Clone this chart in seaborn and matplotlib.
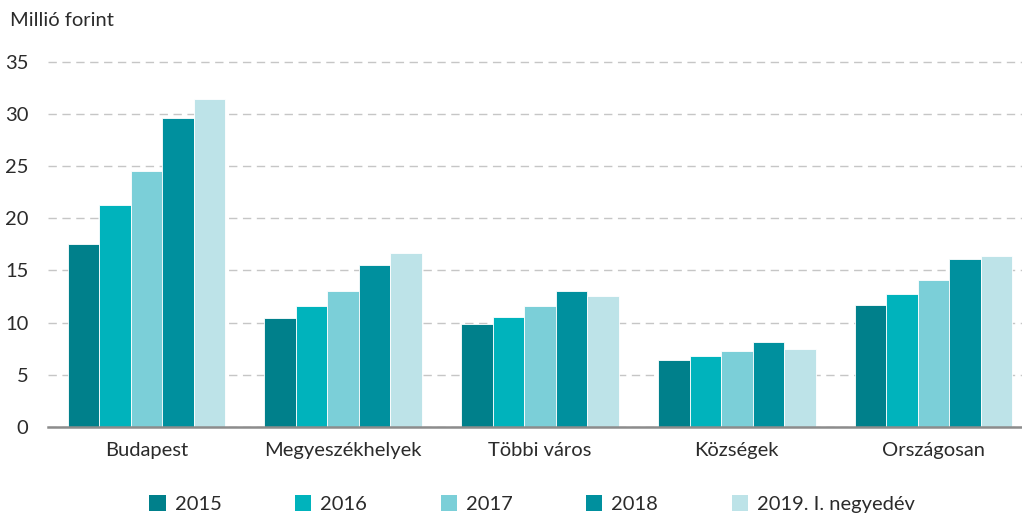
import matplotlib
matplotlib.use("Agg")
import matplotlib.pyplot as plt
from matplotlib.patches import Patch
import seaborn as sns
import pandas as pd
import numpy as np

categories = ["Budapest", "Megyeszékhelyek", "Többi város", "Községek", "Országosan"]
series_names = ["2015", "2016", "2017", "2018", "2019. I. negyedév"]
v2015 = [17.5, 10.4, 9.85, 6.4, 11.7]
v2016 = [21.3, 11.6, 10.5, 6.8, 12.7]
v2017 = [24.5, 13.0, 11.6, 7.3, 14.1]
v2018 = [29.6, 15.5, 13.0, 8.1, 16.1]
v2019 = [31.4, 16.7, 12.5, 7.5, 16.4]
colors = ["#00808b", "#00b3bc", "#7bcfd8", "#00909e", "#bde3e8"]
yticks = [0, 5, 10, 15, 20, 25, 30, 35]

rows = []
for name, vals in zip(series_names, [v2015, v2016, v2017, v2018, v2019]):
    for c, v in zip(categories, vals):
        rows.append({"cat": c, "series": name, "value": v})
df = pd.DataFrame(rows)

sns.set_style("white")
plt.rcParams["font.family"] = ["Lato", "DejaVu Sans"]
text_color = "#2b2b2b"
fs = 14.5

fig = plt.figure(figsize=(10.22, 5.13), dpi=100)
ax = fig.add_axes([48 / 1022, 86 / 513, 984 / 1022, 366 / 513])

sns.barplot(data=df, x="cat", y="value", hue="series", order=categories,
            hue_order=series_names, palette=colors, width=0.8, ax=ax,
            edgecolor="white", linewidth=0.6, legend=False, saturation=1)

ax.set_xlim(-0.5, 4.5)
ax.set_ylim(0, 35.05)
ax.set_yticks(yticks)
ax.set_yticklabels([str(t) for t in yticks], fontsize=fs, color=text_color)
ax.yaxis.grid(True, color="#c6c6c6", linestyle=(0, (6, 4)), linewidth=1)
ax.set_axisbelow(True)
ax.tick_params(axis="y", length=0, pad=14)

ax.set_xticks(range(len(categories)))
ax.set_xticklabels(categories, fontsize=fs, color=text_color)
ax.tick_params(axis="x", which="major", length=0, pad=11)
ax.set_xticks(np.arange(-0.5, 5.0, 1.0), minor=True)
ax.tick_params(axis="x", which="minor", length=10, width=1.8, color="#8c8c8c")

for s in ["top", "right", "left"]:
    ax.spines[s].set_visible(False)
ax.spines["bottom"].set_color("#8c8c8c")
ax.spines["bottom"].set_linewidth(1.8)
ax.set_xlabel("")
ax.set_ylabel("")

fig.text(10 / 1022, 1 - 20 / 513, "Millió forint", fontsize=fs, color=text_color,
         va="center", ha="left")

handles = [Patch(facecolor=c, edgecolor="none") for c in colors]
fig.legend(handles, series_names, loc="center", bbox_to_anchor=(532 / 1022, 1 - 504 / 513),
           ncol=5, frameon=False, fontsize=fs, handlelength=0.8, handleheight=0.8,
           handletextpad=0.45, columnspacing=3.65, labelcolor=text_color)

fig.savefig("out.png", dpi=100)
